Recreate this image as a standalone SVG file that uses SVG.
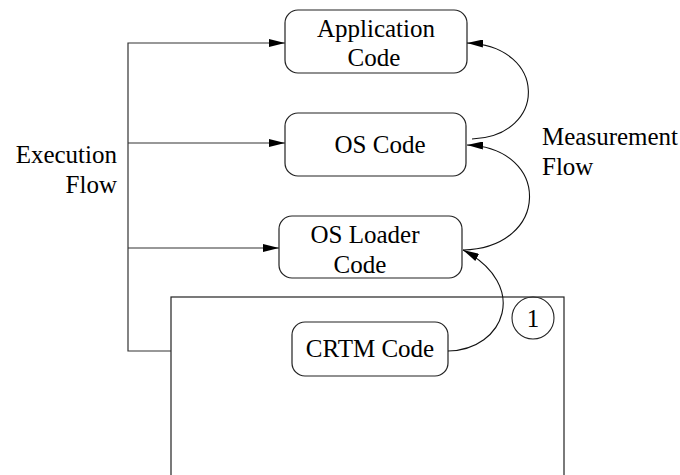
<svg xmlns="http://www.w3.org/2000/svg" width="680" height="475" viewBox="0 0 680 475">
<defs>
<marker id="ah" markerWidth="16" markerHeight="8" refX="16" refY="4" orient="auto" markerUnits="userSpaceOnUse">
<path d="M0,0 L16,4 L0,8 Z" fill="#000"/>
</marker>
<style>
.box{fill:#fff;stroke:#222;stroke-width:1.2}
.ln{fill:none;stroke:#333;stroke-width:1.2}
.cv{fill:none;stroke:#111;stroke-width:1.1}
.t{font-family:'Liberation Serif','Times New Roman','DejaVu Serif',serif;font-size:25px;fill:#000}
</style>
</defs>
<rect width="680" height="475" fill="#fff"/>
<g id="platform">
<rect x="171" y="297" width="393" height="200" fill="none" stroke="#222" stroke-width="1.2"/>
</g>
<g id="app">
<rect class="box" x="285" y="10" width="182" height="63" rx="13"/>
<text class="t" font-family="Liberation Serif, serif" x="376" y="37" text-anchor="middle">Application</text>
<text class="t" font-family="Liberation Serif, serif" x="374" y="66" text-anchor="middle">Code</text>
</g>
<g id="os">
<rect class="box" x="285" y="113" width="181" height="63" rx="13"/>
<text class="t" font-family="Liberation Serif, serif" x="380" y="153" text-anchor="middle">OS Code</text>
</g>
<g id="loader">
<rect class="box" x="279" y="216" width="183" height="62" rx="13"/>
<text class="t" font-family="Liberation Serif, serif" x="365" y="243" text-anchor="middle">OS Loader</text>
<text class="t" font-family="Liberation Serif, serif" x="360" y="273" text-anchor="middle">Code</text>
</g>
<g id="crtm">
<rect class="box" x="292" y="322" width="156" height="54" rx="13"/>
<text class="t" font-family="Liberation Serif, serif" x="370" y="357" text-anchor="middle">CRTM Code</text>
</g>
<g id="step1">
<circle cx="533" cy="318" r="21" fill="none" stroke="#222" stroke-width="1.1"/>
<text class="t" font-family="Liberation Serif, serif" x="533" y="327" text-anchor="middle">1</text>
</g>
<g id="labels">
<text class="t" font-family="Liberation Serif, serif" x="117" y="163" text-anchor="end">Execution</text>
<text class="t" font-family="Liberation Serif, serif" x="117" y="193" text-anchor="end">Flow</text>
<text class="t" font-family="Liberation Serif, serif" x="542" y="145">Measurement</text>
<text class="t" font-family="Liberation Serif, serif" x="542" y="175">Flow</text>
</g>
<g id="connectors">
<path class="ln" d="M171 351 H128 V43 H285" marker-end="url(#ah)"/>
<path class="ln" d="M128 143 H285" marker-end="url(#ah)"/>
<path class="ln" d="M128 248 H279" marker-end="url(#ah)"/>
<path class="cv" d="M472 139 C548 136 548 46 467 43" marker-end="url(#ah)"/>
<path class="cv" d="M463 250 C550 248 552 148 467 145" marker-end="url(#ah)"/>
<path class="cv" d="M448 351 C505 350 530 285 463 250" marker-end="url(#ah)"/>
</g>
</svg>
